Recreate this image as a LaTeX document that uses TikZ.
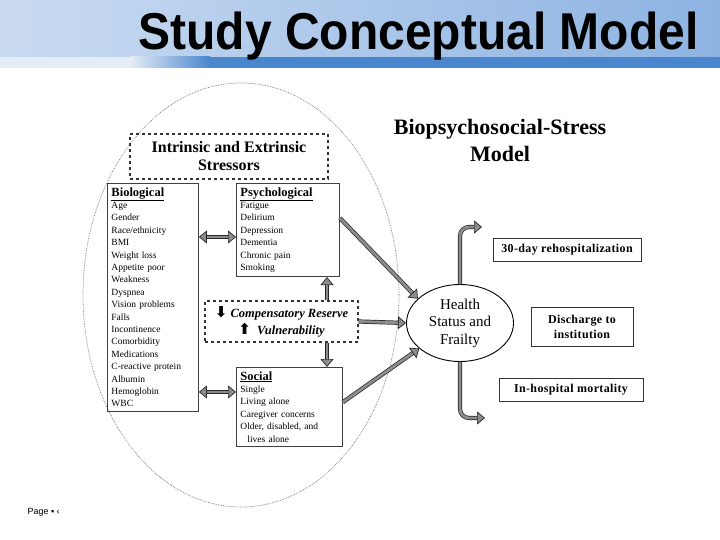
\documentclass[tikz,border=0pt]{standalone}
\usepackage{fontspec}
\setmainfont{Liberation Serif}
\newfontfamily\titlefont{Liberation Sans}
\newfontfamily\symfont{DejaVu Sans}
\usetikzlibrary{arrows.meta,shapes.geometric}
\definecolor{bartop}{HTML}{CADBF1}
\definecolor{barright}{HTML}{8DB3E2}
\definecolor{bandblue}{HTML}{4A86CE}
\definecolor{bandpale}{HTML}{E4ECF6}
\definecolor{fillgray}{HTML}{8C8C8C}

\begin{document}
\begin{tikzpicture}[x=1pt, y=-1pt, >=Stealth,
  listbox/.style={draw=black!75, line width=0.9pt, anchor=north west, align=left,
    inner sep=4pt, font=\fontsize{9.5}{12.4}\selectfont},
  outbox/.style={draw=black!80, line width=0.9pt, align=center, inner sep=1pt,
    font=\fontsize{12}{15}\selectfont\bfseries\addfontfeature{LetterSpace=3}},
  dashbox/.style={draw=black!80, dashed, line width=1.1pt, align=center},
  blockarrow/.style={draw=black!85, line width=0.7pt, double=fillgray, double distance=2.8pt,
    -{Triangle[length=8pt, width=13pt, fill=fillgray]}},
  twoway/.style={blockarrow, {Triangle[length=8pt, width=13pt, fill=fillgray]}-{Triangle[length=8pt, width=13pt, fill=fillgray]}}]
  \useasboundingbox (0,0) rectangle (720,540);
  \fill[white] (0,0) rectangle (720,540);

  % title bar
  \shade[left color=bartop, right color=barright] (0,0) rectangle (720,57);
  \fill[bandpale] (0,57) rectangle (130,68);
  \shade[left color=bandpale, right color=bandblue] (130,57) rectangle (210,68);
  \fill[bandblue] (210,57) rectangle (720,68);
  \node[anchor=base, inner sep=0pt, font=\titlefont\bfseries\fontsize{48}{48}\selectfont] (title)
    at (418.5,50) {\scalebox{1}[1.08]{Study Conceptual Model}};

  % stressor circle
  \draw[densely dotted, black!55, line width=0.7pt] (241,295) ellipse [x radius=158, y radius=212];

  \node[dashbox, minimum width=198pt, minimum height=45pt, font=\fontsize{16}{18}\selectfont\bfseries]
    (stress) at (229,156.5) {Intrinsic and Extrinsic\\Stressors};

  \node[listbox, text width=83pt] (bio) at (107,183) {%
    {\fontsize{12.5}{12}\selectfont\bfseries\underline{Biological}}\\
    Age\\ Gender\\ Race/ethnicity\\ BMI\\ Weight loss\\ Appetite poor\\ Weakness\\ Dyspnea\\
    Vision problems\\ Falls\\ Incontinence\\ Comorbidity\\ Medications\\ C-reactive protein\\
    Albumin\\ Hemoglobin\\ WBC};
  \node[listbox, text width=95pt] (psych) at (236,183) {%
    {\fontsize{12.5}{12}\selectfont\bfseries\underline{Psychological}}\\
    Fatigue\\ Delirium\\ Depression\\ Dementia\\ Chronic pain\\ Smoking};
  \node[listbox, text width=98pt] (social) at (236,367) {%
    {\fontsize{12.5}{12}\selectfont\bfseries\underline{Social}}\\
    Single\\ Living alone\\ Caregiver concerns\\ Older, disabled, and\\ \hspace*{7pt}lives alone};

  \node[dashbox, minimum width=153pt, minimum height=41pt, inner sep=1pt,
    font=\fontsize{12.5}{17}\selectfont\bfseries\itshape] (comp) at (281.5,321.5)
    {{\symfont\fontsize{15}{15}\selectfont ⬇}\ Compensatory Reserve\\{\symfont\fontsize{15}{15}\selectfont ⬆}\ \ Vulnerability};

  % model title and outcomes
  \node[align=center, font=\fontsize{22}{27}\selectfont\bfseries] (model) at (500,140)
    {Biopsychosocial-Stress\\Model};
  \node[draw, ellipse, line width=0.9pt, minimum width=107pt, minimum height=77pt, inner sep=0pt,
    align=center, font=\fontsize{15}{17.5}\selectfont] (health) at (460,323)
    {Health\\Status and\\Frailty};
  \node[outbox, minimum width=148pt, minimum height=23pt] (rehosp) at (567,249.5) {30-day rehospitalization};
  \node[outbox, minimum width=102pt, minimum height=39pt] (disch) at (582,326.5) {Discharge to\\institution};
  \node[outbox, minimum width=144pt, minimum height=23pt] (mort) at (571,389.5) {In-hospital mortality};

  % connectors
  \coordinate (vx) at (327,0);
  \coordinate (topend) at (482,227);
  \coordinate (botend) at (485,418);
  \draw[twoway] (bio.east |- 0,237) -- (psych.west |- 0,237);
  \draw[twoway] (bio.east |- 0,392) -- (social.west |- 0,392);
  \draw[blockarrow] (comp.north -| vx) -- (psych.south -| vx);
  \draw[blockarrow] (comp.south -| vx) -- (social.north -| vx);
  \draw[blockarrow] (comp.east) -- (health.west);
  \draw[blockarrow] (psych.13) -- (health.150);
  \draw[blockarrow] (social.5) -- (health.212);
  \draw[blockarrow, rounded corners=9pt] (health.north) -- (health.north |- topend) -- (topend);
  \draw[blockarrow, rounded corners=9pt] (health.south) -- (health.south |- botend) -- (botend);

  \node[anchor=west, font=\titlefont\fontsize{9}{9}\selectfont] (page) at (24,512) {Page ▪ ‹};
\end{tikzpicture}
\end{document}
